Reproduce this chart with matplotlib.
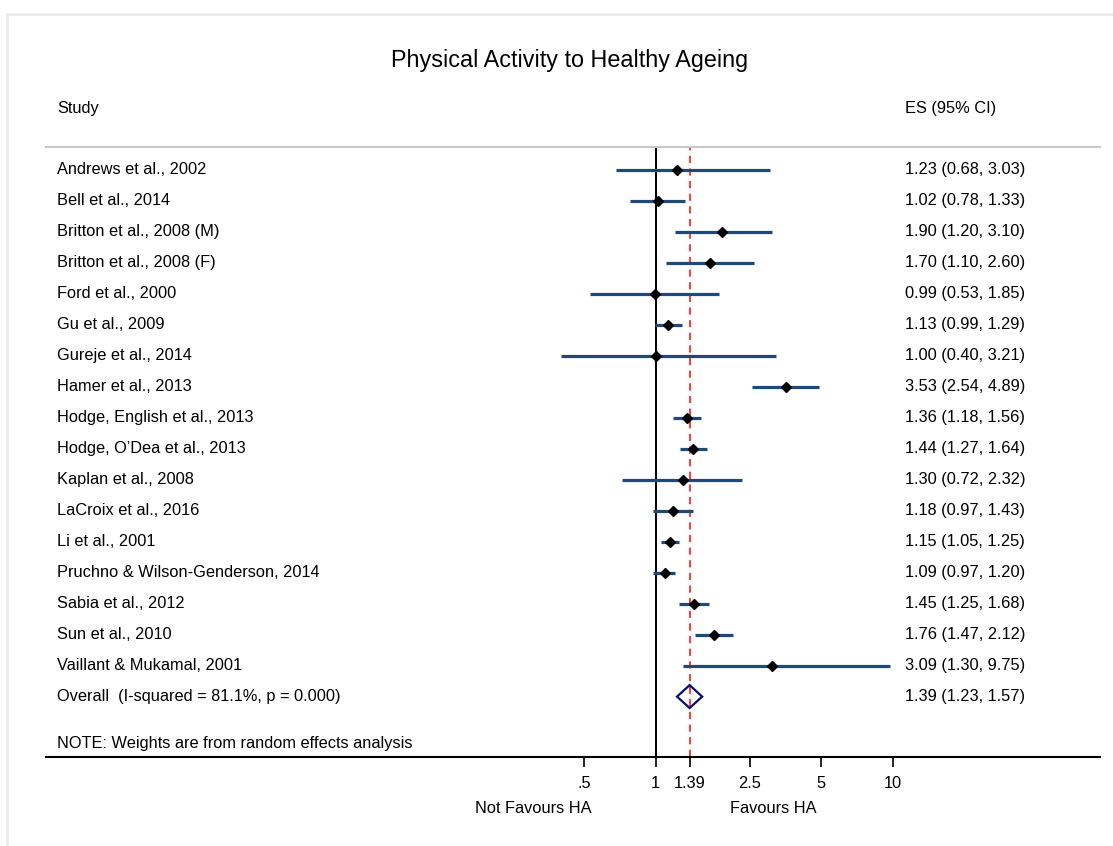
import matplotlib
matplotlib.use('Agg')
import matplotlib.pyplot as plt
from matplotlib.patches import Polygon, Rectangle
import numpy as np

# ---------------- data -----------------
studies = ['Andrews et al., 2002', 'Bell et al., 2014', 'Britton et al., 2008 (M)',
           'Britton et al., 2008 (F)', 'Ford et al., 2000', 'Gu et al., 2009',
           'Gureje et al., 2014', 'Hamer et al., 2013', 'Hodge, English et al., 2013',
           'Hodge, O\u2019Dea et al., 2013', 'Kaplan et al., 2008', 'LaCroix et al., 2016',
           'Li et al., 2001', 'Pruchno & Wilson-Genderson, 2014', 'Sabia et al., 2012',
           'Sun et al., 2010', 'Vaillant & Mukamal, 2001']
es = [1.23, 1.02, 1.90, 1.70, 0.99, 1.13, 1.00, 3.53, 1.36, 1.44, 1.30, 1.18, 1.15, 1.09, 1.45, 1.76, 3.09]
lo = [0.68, 0.78, 1.20, 1.10, 0.53, 0.99, 0.40, 2.54, 1.18, 1.27, 0.72, 0.97, 1.05, 0.97, 1.25, 1.47, 1.30]
hi = [3.03, 1.33, 3.10, 2.60, 1.85, 1.29, 3.21, 4.89, 1.56, 1.64, 2.32, 1.43, 1.25, 1.20, 1.68, 2.12, 9.75]
overall_label = 'Overall  (I-squared = 81.1%, p = 0.000)'
overall = (1.39, 1.23, 1.57)
xticks = [0.5, 1, 1.39, 2.5, 5, 10]
xticklabels = ['.5', '1', '1.39', '2.5', '5', '10']

plt.rcParams['font.family'] = ['Liberation Sans', 'DejaVu Sans']
fs = 11.8

W, H = 1113, 846
fig = plt.figure(figsize=(W / 100, H / 100), dpi=100)

def fx(px):
    return px / W

def fy(py):
    return 1 - py / H

# light frame like the stata graph region
fig.patches.append(Rectangle((fx(7), fy(1000)), 2, fy(14) - fy(1000), transform=fig.transFigure,
                             fill=False, edgecolor='#ececec', lw=2))

ax = fig.add_axes([fx(46), fy(757), fx(1100) - fx(46), fy(147) - fy(757)])
ax.set_xscale('log')
ax.set_xlim(0.00267, 75.0)
ax.set_ylim(18.95, -0.742)

n = len(studies)
rows = np.arange(n)
for i in range(n):
    ax.plot([lo[i], hi[i]], [rows[i], rows[i]], color='#1f4a78', lw=2.3, solid_capstyle='butt', zorder=2)
ax.plot(es, rows, 'D', color='black', ms=5.3, zorder=3)

# overall diamond
oy = n
d = Polygon([[overall[1], oy], [overall[0], oy - 0.37], [overall[2], oy], [overall[0], oy + 0.37]],
            closed=True, fill=False, edgecolor='#0a0a6e', lw=1.6, zorder=4)
ax.add_patch(d)

ax.axvline(1, color='black', lw=1.4, zorder=1)
ax.axvline(overall[0], color='#ff2a2a', lw=1.3, ls=(0, (4, 3)), zorder=1)

for s in ['left', 'right']:
    ax.spines[s].set_visible(False)
ax.spines['top'].set_color('#c8c8c8')
ax.spines['top'].set_linewidth(1.5)
ax.spines['bottom'].set_linewidth(1.5)
ax.set_yticks([])
ax.set_xticks(xticks)
ax.set_xticklabels(xticklabels, fontsize=fs)
ax.minorticks_off()
ax.tick_params(axis='x', length=7.5, width=1.2, pad=6)

# text columns
tr = ax.get_yaxis_transform()
for i in range(n):
    ax.text(0.0104, rows[i], studies[i], transform=tr, fontsize=fs, va='center')
    ax.text(0.815, rows[i], '%.2f (%.2f, %.2f)' % (es[i], lo[i], hi[i]), transform=tr, fontsize=fs, va='center')
ax.text(0.0104, oy, overall_label, transform=tr, fontsize=fs, va='center')
ax.text(0.815, oy, '%.2f (%.2f, %.2f)' % overall, transform=tr, fontsize=fs, va='center')
ax.text(0.0104, 18.5, 'NOTE: Weights are from random effects analysis', transform=tr, fontsize=fs, va='center')

fig.text(fx(570), fy(60), 'Physical Activity to Healthy Ageing', fontsize=16.8, ha='center', va='center')
fig.text(fx(57), fy(108), 'Study', fontsize=fs, va='center')
fig.text(fx(905), fy(108), 'ES (95% CI)', fontsize=fs, va='center')
fig.text(fx(533), fy(808), 'Not Favours HA', fontsize=fs, ha='center', va='center')
fig.text(fx(773), fy(808), 'Favours HA', fontsize=fs, ha='center', va='center')

fig.savefig('out.png', dpi=100)
